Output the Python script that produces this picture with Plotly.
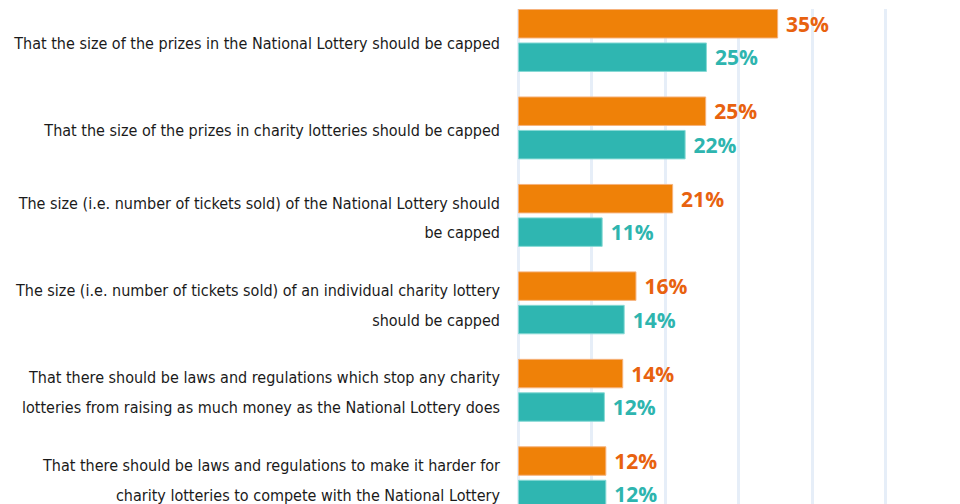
import plotly.graph_objects as go

categories = [
    "That the size of the prizes in the National Lottery should be capped",
    "That the size of the prizes in charity lotteries should be capped",
    "The size (i.e. number of tickets sold) of the National Lottery should<br>be capped",
    "The size (i.e. number of tickets sold) of an individual charity lottery<br>should be capped",
    "That there should be laws and regulations which stop any charity<br>lotteries from raising as much money as the National Lottery does",
    "That there should be laws and regulations to make it harder for<br>charity lotteries to compete with the National Lottery",
]
orange_values = [35.3, 25.5, 21.0, 16.0, 14.2, 11.9]
orange_labels = ["35%", "25%", "21%", "16%", "14%", "12%"]
teal_values = [25.6, 22.7, 11.4, 14.4, 11.7, 11.9]
teal_labels = ["25%", "22%", "11%", "14%", "12%", "12%"]
x_ticks = [0, 10, 20, 30, 40, 50, 60]

ORANGE = "#EF8108"
ORANGE_TXT = "#E8620F"
TEAL = "#2FB6B1"
TEAL_TXT = "#2EB5AF"

LABEL_PX = 16
tick_text = ["<br>".join(f"<span style='font-size:{LABEL_PX}px'>{s}</span>" for s in c.split("<br>"))
             for c in categories]

fig = go.Figure()
fig.add_trace(go.Bar(
    y=categories, x=orange_values, orientation="h",
    marker=dict(color=ORANGE, line=dict(color="#F6B27C", width=1)),
    text=orange_labels, texttemplate=" %{text}", textposition="outside", cliponaxis=False,
    constraintext="none",
    textfont=dict(family="Open Sans", size=21, color=ORANGE_TXT, weight="bold"),
    hoverinfo="skip",
))
fig.add_trace(go.Bar(
    y=categories, x=teal_values, orientation="h",
    marker=dict(color=TEAL, line=dict(color="#86D9D5", width=1)),
    text=teal_labels, texttemplate=" %{text}", textposition="outside", cliponaxis=False,
    constraintext="none",
    textfont=dict(family="Open Sans", size=21, color=TEAL_TXT, weight="bold"),
    hoverinfo="skip",
))

# page body has an 8px default margin: compensate so the plot sits where the reference has it
fig.update_layout(
    width=960, height=504,
    margin=dict(l=508.5, r=6, t=1, b=8, pad=0, autoexpand=False),
    paper_bgcolor="white", plot_bgcolor="white",
    barmode="group", bargap=0.235, bargroupgap=0.149,
    showlegend=False,
    xaxis=dict(range=[-0.2, 60.41], tickvals=x_ticks, showticklabels=False,
               showgrid=True, gridcolor="#E6EEF8", gridwidth=3,
               zeroline=False, showline=False, automargin=False),
    yaxis=dict(range=[5.30, -0.36], showgrid=False, zeroline=False,
               showline=False, ticks="", ticklabelstandoff=16, automargin=False,
               tickmode="array", tickvals=categories, ticktext=tick_text,
               tickfont=dict(family="DejaVu Sans Condensed, sans-serif",
                             size=23, color="#1a1a1a")),
)

fig.write_html("out.html")
